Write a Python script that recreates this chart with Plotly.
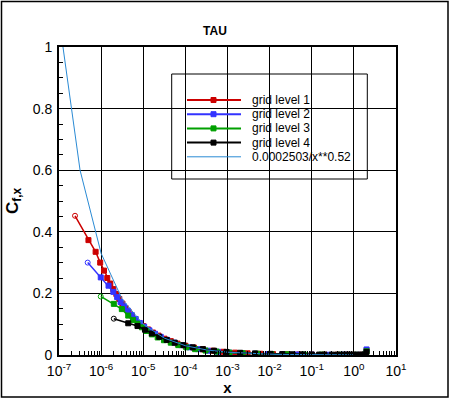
import plotly.graph_objects as go

# grid level 1 (finest)
x_g1 = [2.4e-7, 5.0e-7, 7.4e-7, 9.5e-7, 1.17e-6, 1.4e-6, 1.65e-6, 1.95e-6, 2.3e-6, 2.7e-6,
        3.2e-6, 3.8e-6, 4.5e-6, 5.4e-6, 6.5e-6, 8e-6, 1e-5, 1.3e-5, 1.7e-5, 2.3e-5,
        3.2e-5, 4.5e-5, 6.5e-5, 1e-4, 1.6e-4, 2.6e-4, 4.5e-4, 8e-4, 1.5e-3, 3e-3,
        6e-3, 1.2e-2, 2.5e-2, 5e-2, 0.1, 0.2, 0.4, 0.7, 1.0, 1.4, 1.8, 2.0]
y_g1 = [0.452, 0.373, 0.335, 0.300, 0.274, 0.250, 0.232, 0.214, 0.198, 0.182,
        0.167, 0.153, 0.140, 0.128, 0.116, 0.104, 0.094, 0.083, 0.073, 0.063,
        0.053, 0.045, 0.037, 0.030, 0.024, 0.0185, 0.014, 0.0105, 0.0077, 0.0055,
        0.0040, 0.0030, 0.0022, 0.0017, 0.0013, 0.0010, 0.0008, 0.0007, 0.0006, 0.0006, 0.0008, 0.015]

# grid level 2
x_g2 = [4.8e-7, 9.8e-7, 1.5e-6, 1.95e-6, 2.4e-6, 2.9e-6, 3.5e-6, 4.3e-6, 5.3e-6, 6.6e-6,
        8.3e-6, 1.05e-5, 1.4e-5, 1.9e-5, 2.6e-5, 3.7e-5, 5.4e-5, 8e-5, 1.25e-4, 2e-4,
        3.4e-4, 6e-4, 1.1e-3, 2.2e-3, 4.5e-3, 9e-3, 2e-2, 4.5e-2, 0.1, 0.25, 0.6, 1.2, 1.8, 2.0]
y_g2 = [0.300, 0.252, 0.225, 0.205, 0.188, 0.172, 0.158, 0.144, 0.130, 0.117,
        0.104, 0.092, 0.080, 0.069, 0.059, 0.049, 0.040, 0.032, 0.025, 0.019,
        0.014, 0.0105, 0.0076, 0.0054, 0.0039, 0.0029, 0.0021, 0.0015, 0.0011, 0.0008, 0.0007, 0.0006, 0.0009, 0.018]

# grid level 3
x_g3 = [9.8e-7, 2.0e-6, 3.1e-6, 4.4e-6, 5.7e-6, 7.3e-6, 9.3e-6, 1.2e-5, 1.6e-5, 2.2e-5,
        3.1e-5, 4.5e-5, 6.8e-5, 1.05e-4, 1.7e-4, 3e-4, 5.5e-4, 1.1e-3, 2.3e-3, 5e-3,
        1.1e-2, 2.6e-2, 6.5e-2, 0.17, 0.45, 1.1, 1.8, 2.0]
y_g3 = [0.190, 0.166, 0.149, 0.128, 0.114, 0.102, 0.090, 0.078, 0.067, 0.057,
        0.048, 0.040, 0.032, 0.025, 0.019, 0.0145, 0.011, 0.008, 0.0058, 0.0042,
        0.0031, 0.0023, 0.0016, 0.0012, 0.0009, 0.0007, 0.001, 0.012]

# grid level 4 (coarsest)
x_g4 = [2.0e-6, 4.4e-6, 7.3e-6, 1.1e-5, 1.6e-5, 2.4e-5, 3.6e-5, 5.6e-5, 9e-5, 1.5e-4,
        2.6e-4, 4.8e-4, 9.5e-4, 2e-3, 4.5e-3, 1.05e-2, 2e-2, 3.5e-2, 6e-2, 0.1,
        0.15, 0.2, 0.3, 0.4, 0.5, 0.6, 0.7, 0.8, 0.9, 1.0, 1.2, 1.4, 1.6, 1.8, 2.0]
y_g4 = [0.118, 0.103, 0.094, 0.082, 0.070, 0.059, 0.049, 0.040, 0.032, 0.025,
        0.019, 0.014, 0.010, 0.0072, 0.0052, 0.0038, 0.0030, 0.0024, 0.0019, 0.0016,
        0.0014, 0.0013, 0.0012, 0.0011, 0.0010, 0.0010, 0.0009, 0.0009, 0.0009, 0.0009, 0.0009, 0.0010, 0.0011, 0.0013, 0.010]

# correlation 0.0002503/x**0.52, read at half decades
x_fit = [1e-7, 3.16e-7, 1e-6, 3.16e-6, 1e-5, 3.16e-5, 1e-4, 3.16e-4, 1e-3,
         3.16e-3, 1e-2, 3.16e-2, 0.1, 0.316, 1.0]
y_fit = [1.093, 0.600, 0.330, 0.181, 0.0997, 0.0548, 0.0301, 0.0165, 0.00909,
         0.0050, 0.00274, 0.00151, 0.00083, 0.00046, 0.00025]

x_tickvals = [1e-7, 1e-6, 1e-5, 1e-4, 1e-3, 1e-2, 1e-1, 1e0, 1e1]
x_ticktext = ["10<sup>-7</sup>", "10<sup>-6</sup>", "10<sup>-5</sup>", "10<sup>-4</sup>",
              "10<sup>-3</sup>", "10<sup>-2</sup>", "10<sup>-1</sup>", "10<sup>0</sup>", "10<sup>1</sup>"]

series = [
    ("grid level 1", x_g1, y_g1, "#cc0000"),
    ("grid level 2", x_g2, y_g2, "#3333ff"),
    ("grid level 3", x_g3, y_g3, "#00a000"),
    ("grid level 4", x_g4, y_g4, "#000000"),
]
fit_name = "0.0002503/x**0.52"
fit_color = "#2a8ad4"

fig = go.Figure()
for name, xs, ys, col in series:
    syms = ["circle-open"] + ["square"] * (len(xs) - 1)
    fig.add_trace(go.Scatter(
        x=xs, y=ys, mode="lines+markers", name=name, showlegend=False,
        line=dict(color=col, width=1.5),
        marker=dict(symbol=syms, size=5, color=col, line=dict(color=col, width=1)),
    ))
fig.add_trace(go.Scatter(
    x=x_fit, y=y_fit, mode="lines", name=fit_name, showlegend=False,
    line=dict(color=fit_color, width=1),
))

# plot area in pixels: x 59..396, y 47..355
def px(x):
    return (x - 59) / 337

def py(y):
    return (355 - y) / 308

shapes = [
    dict(type="rect", xref="paper", yref="paper", x0=px(171.7), x1=px(367.3),
         y0=py(179), y1=py(74), line=dict(color="black", width=1),
         fillcolor="white", layer="between"),
    dict(type="rect", xref="paper", yref="paper", x0=px(1.5), x1=px(448),
         y0=py(397), y1=py(1.5), line=dict(color="black", width=1.5),
         fillcolor="rgba(0,0,0,0)"),
]
annotations = []
rows = [100, 114.2, 128.4, 142.6, 156.8]
entries = [(n, c, True) for n, _, _, c in series] + [(fit_name, fit_color, False)]
for (name, col, has_marker), ry in zip(entries, rows):
    shapes.append(dict(type="line", xref="paper", yref="paper",
                       x0=px(187), x1=px(241), y0=py(ry), y1=py(ry),
                       line=dict(color=col, width=2 if has_marker else 1)))
    if has_marker:
        shapes.append(dict(type="rect", xref="paper", yref="paper",
                           xsizemode="pixel", ysizemode="pixel",
                           xanchor=px(213.5), yanchor=py(ry),
                           x0=-2.5, x1=2.5, y0=-2.5, y1=2.5,
                           line=dict(color=col, width=1), fillcolor=col))
    annotations.append(dict(xref="paper", yref="paper", x=px(250), y=py(ry),
                            xanchor="left", yanchor="middle", showarrow=False,
                            text=name, font=dict(size=12, color="black",
                                                 family="Liberation Sans, Arial")))

axis_font = dict(family="Liberation Sans, Arial", size=14, color="black")

fig.update_layout(
    width=450, height=401,
    margin=dict(l=59, r=54, t=47, b=46),
    paper_bgcolor="white", plot_bgcolor="white",
    font=dict(family="Liberation Sans, Arial", color="black"),
    title=dict(text="<b>TAU</b>", x=px(220), xanchor="center", y=1 - 31 / 401,
               yanchor="middle", font=dict(size=12, family="Liberation Sans, Arial")),
    showlegend=False,
    shapes=shapes,
    annotations=annotations,
)

fig.update_xaxes(
    type="log", range=[-7, 1], tickvals=x_tickvals, ticktext=x_ticktext,
    showgrid=True, gridcolor="black", gridwidth=1,
    showline=True, linecolor="black", linewidth=2, mirror=True,
    ticks="inside", ticklen=7, tickcolor="black", tickwidth=1,
    minor=dict(ticks="inside", ticklen=4, tickcolor="black", dtick="D1", showgrid=False),
    tickfont=axis_font, zeroline=False, automargin=False, ticklabelstandoff=2,
    title=dict(text="<b>x</b>", font=dict(size=15), standoff=0),
)
fig.update_yaxes(
    range=[0, 1], dtick=0.2,
    showgrid=True, gridcolor="black", gridwidth=1,
    showline=True, linecolor="black", linewidth=2, mirror=True,
    ticks="inside", ticklen=7, tickcolor="black", tickwidth=1,
    minor=dict(ticks="inside", ticklen=4, tickcolor="black", dtick=0.05, showgrid=False),
    tickfont=axis_font, zeroline=False, automargin=False, ticklabelstandoff=2,
    title=dict(text="<b>C<sub>f,x</sub></b>", font=dict(size=17), standoff=10),
)

fig.write_html("out.html", config={"displayModeBar": False},
               post_script="document.body.style.margin = '0';")
